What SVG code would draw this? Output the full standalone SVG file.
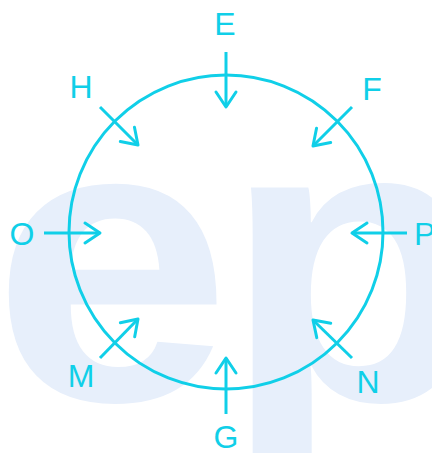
<svg xmlns="http://www.w3.org/2000/svg" width="432" height="453" viewBox="0 0 432 453">
<style>
.wm{font-family:"Liberation Sans",Arial,sans-serif;font-weight:bold;font-size:402px;fill:#e7effb;letter-spacing:-8px}
.lbl{font-family:"Liberation Sans",Arial,sans-serif;font-size:32px;fill:#10cfe8;text-anchor:middle}
.ring{fill:none;stroke:#10cfe8;stroke-width:3}
.arr{fill:none;stroke:#10cfe8;stroke-width:3;marker-end:url(#ah)}
</style>
<defs>
<marker id="ah" markerUnits="userSpaceOnUse" viewBox="-20 -14 24 28" refX="0" refY="0" markerWidth="24" markerHeight="28" orient="auto">
<path d="M-15,-10 L0,0 L-15,10" fill="none" stroke="#10cfe8" stroke-width="3" stroke-linecap="round" stroke-linejoin="round"/>
</marker>
</defs>
<rect width="432" height="453" fill="#ffffff"/>
<text class="wm" transform="scale(1.07,1)" x="-7.5" y="400">ep</text>
<g id="ring"><circle class="ring" cx="226" cy="232" r="157"/></g>
<g id="connectors">
<line class="arr" x1="226" y1="52" x2="226" y2="107"/>
<line class="arr" x1="100" y1="107" x2="138" y2="145"/>
<line class="arr" x1="352" y1="107" x2="313" y2="146"/>
<line class="arr" x1="44" y1="233" x2="100" y2="233"/>
<line class="arr" x1="407" y1="233" x2="352" y2="233"/>
<line class="arr" x1="100" y1="358" x2="138" y2="319"/>
<line class="arr" x1="352" y1="358" x2="313" y2="320"/>
<line class="arr" x1="226" y1="414" x2="226" y2="358"/>
</g>
<g id="node-E"><text class="lbl" x="225" y="35">E</text></g>
<g id="node-H"><text class="lbl" x="81" y="98">H</text></g>
<g id="node-F"><text class="lbl" x="372" y="100">F</text></g>
<g id="node-O"><text class="lbl" x="22" y="245">O</text></g>
<g id="node-P"><text class="lbl" x="414" y="245" style="text-anchor:start">P</text></g>
<g id="node-M"><text class="lbl" x="81" y="387">M</text></g>
<g id="node-N"><text class="lbl" x="368" y="393">N</text></g>
<g id="node-G"><text class="lbl" x="226" y="448">G</text></g>
</svg>
